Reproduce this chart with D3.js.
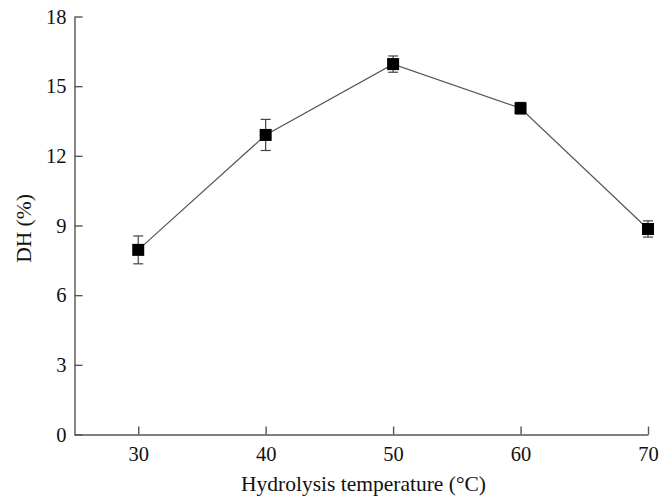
<!DOCTYPE html>
<html>
<head>
<meta charset="utf-8">
<script src="https://cdn.jsdelivr.net/npm/d3@7"></script>
<style>
  body { margin: 0; background: #fff; }
</style>
</head>
<body>
<svg id="chart" width="661" height="501"></svg>
<script>
// Degree of hydrolysis at each hydrolysis temperature
const temperatures = [30, 40, 50, 60, 70];
const dhValues = [7.95, 12.9, 15.95, 14.05, 8.85];
const dhErrors = [0.6, 0.67, 0.35, 0.25, 0.35];
const xTicks = [30, 40, 50, 60, 70];
const yTicks = [0, 3, 6, 9, 12, 15, 18];

const FONT = "Liberation Serif";
const svg = d3.select("#chart");
const axisColor = "#555";

const x = d3.scaleLinear().domain([25, 70]).range([74.5, 648]);
const y = d3.scaleLinear().domain([0, 18]).range([434.5, 16.5]);

// Y axis with inward ticks
const yAxis = svg.append("g")
  .attr("transform", `translate(${x(25)},0)`)
  .call(d3.axisLeft(y).tickValues(yTicks).tickSize(-8).tickPadding(8).tickSizeOuter(0));
yAxis.select(".domain").attr("stroke", axisColor).attr("stroke-width", 1.4);
yAxis.selectAll(".tick line").attr("stroke", axisColor).attr("stroke-width", 1.4);
yAxis.selectAll(".tick text")
  .attr("font-family", FONT).attr("font-size", 20.5).attr("fill", "#111");

// X axis with inward ticks
const xAxis = svg.append("g")
  .attr("transform", `translate(0,${y(0)})`)
  .call(d3.axisBottom(x).tickValues(xTicks).tickSize(-8).tickPadding(12).tickSizeOuter(0));
xAxis.select(".domain").attr("stroke", axisColor).attr("stroke-width", 1.4);
xAxis.selectAll(".tick line").attr("stroke", axisColor).attr("stroke-width", 1.4);
xAxis.selectAll(".tick text")
  .attr("font-family", FONT).attr("font-size", 20.5).attr("fill", "#111");

// Axis titles
svg.append("text")
  .attr("x", 363.5).attr("y", 491)
  .attr("text-anchor", "middle")
  .attr("font-family", FONT)
  .attr("font-size", 21.5)
  .attr("fill", "#111")
  .text("Hydrolysis temperature (°C)");

svg.append("text")
  .attr("transform", "translate(31,228.5) rotate(-90)")
  .attr("text-anchor", "middle")
  .attr("font-family", FONT)
  .attr("font-size", 21.5)
  .attr("fill", "#111")
  .text("DH (%)");

const pts = temperatures.map((t, i) => ({ t, v: dhValues[i], e: dhErrors[i] }));

// Connecting line
svg.append("path")
  .datum(pts)
  .attr("fill", "none")
  .attr("stroke", "#555")
  .attr("stroke-width", 1.2)
  .attr("d", d3.line().x(d => x(d.t)).y(d => y(d.v)));

// Error bars
const eb = svg.append("g").attr("stroke", "#444").attr("stroke-width", 1.2);
pts.forEach(d => {
  const cx = x(d.t);
  eb.append("line").attr("x1", cx).attr("x2", cx).attr("y1", y(d.v + d.e)).attr("y2", y(d.v - d.e));
  eb.append("line").attr("x1", cx - 5).attr("x2", cx + 5).attr("y1", y(d.v + d.e)).attr("y2", y(d.v + d.e));
  eb.append("line").attr("x1", cx - 5).attr("x2", cx + 5).attr("y1", y(d.v - d.e)).attr("y2", y(d.v - d.e));
});

// Square markers
const size = 12;
svg.append("g").selectAll("rect")
  .data(pts)
  .join("rect")
  .attr("x", d => x(d.t) - size / 2)
  .attr("y", d => y(d.v) - size / 2)
  .attr("width", size)
  .attr("height", size)
  .attr("fill", "#000");
</script>
</body>
</html>
